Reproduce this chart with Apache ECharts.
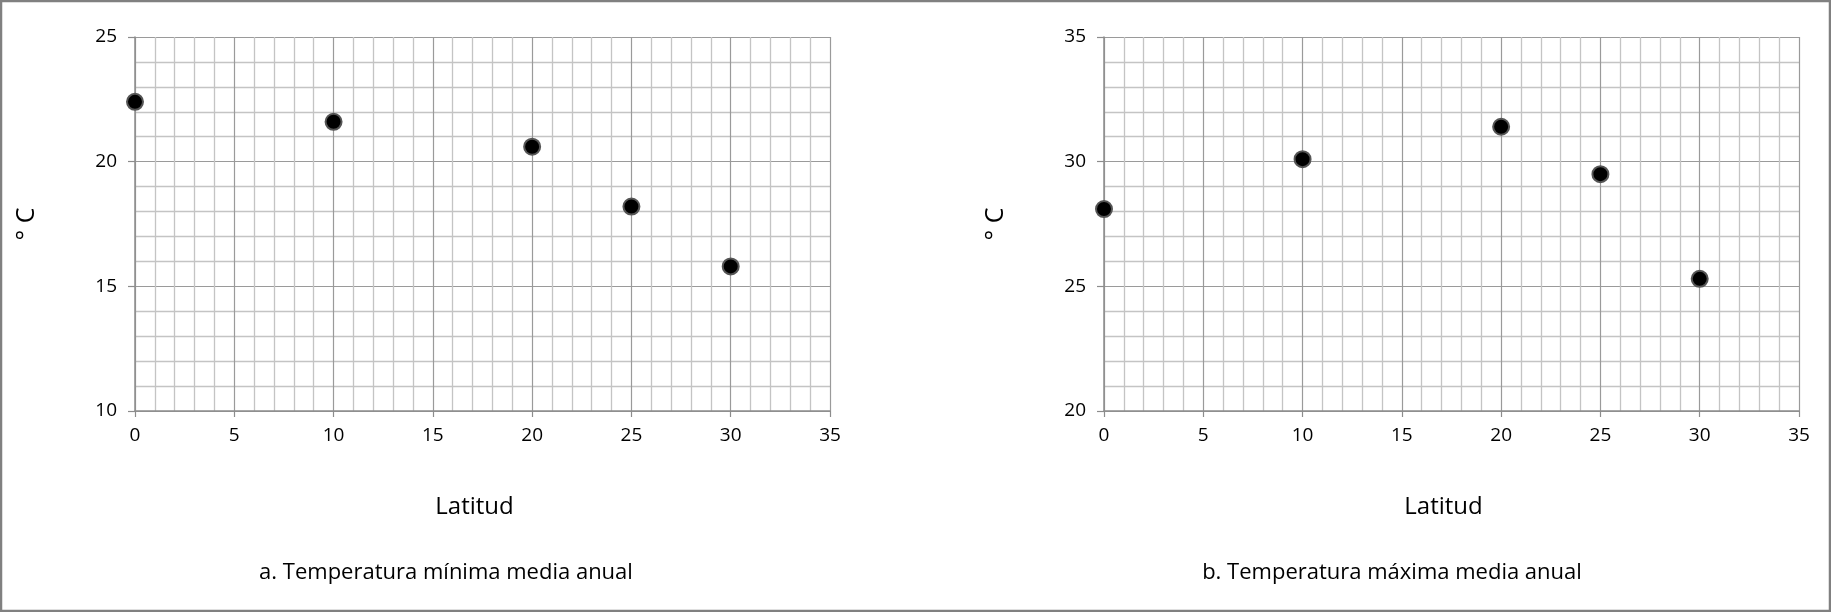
<!DOCTYPE html>
<html>
<head>
<meta charset="utf-8">
<script src="https://cdn.jsdelivr.net/npm/echarts@6/dist/echarts.min.js"></script>
<style>
html,body{margin:0;padding:0;background:#fff;}
#chart{width:1831px;height:612px;}
</style>
</head>
<body>
<div id="chart"></div>
<script>
// Data
const latitudes = [0, 10, 20, 25, 30];
const tempMin = [22.4, 21.6, 20.6, 18.2, 15.8];
const tempMax = [28.1, 30.1, 31.4, 29.5, 25.3];
const xRange = [0, 35];
const yRangeMin = [10, 25];
const yRangeMax = [20, 35];
const xAxisName = 'Latitud';
const yAxisName = '° C';
const titles = ['a. Temperatura mínima media anual', 'b. Temperatura máxima media anual'];

const FONT = '"Open Sans", "DejaVu Sans", sans-serif';
const chart = echarts.init(document.getElementById('chart'), null, {renderer: 'canvas'});

function xAxisCfg(idx) {
  return {
    gridIndex: idx, type: 'value', min: xRange[0], max: xRange[1], interval: 5,
    name: xAxisName, nameLocation: 'middle', nameGap: 84,
    nameTextStyle: {fontFamily: FONT, fontSize: 24, color: '#000', padding: [0, 16, 0, 0]},
    axisLine: {show: true, lineStyle: {color: '#8c8c8c', width: 1.5}},
    axisTick: {show: true, length: 6, lineStyle: {color: '#8c8c8c', width: 1.2}},
    axisLabel: {fontFamily: FONT, fontSize: 19, color: '#000', margin: 15},
    splitLine: {show: true, lineStyle: {color: '#9a9a9a', width: 1.2}},
    minorTick: {show: false, splitNumber: 5},
    minorSplitLine: {show: true, lineStyle: {color: '#c4c4c4', width: 1.3}}
  };
}
function yAxisCfg(idx, range) {
  return {
    gridIndex: idx, type: 'value', min: range[0], max: range[1], interval: 5,
    name: yAxisName, nameLocation: 'middle', nameGap: 96, nameRotate: 90,
    nameTextStyle: {fontFamily: FONT, fontSize: 25, color: '#000'},
    axisLine: {show: true, lineStyle: {color: '#8c8c8c', width: 1.5}},
    axisTick: {show: true, length: 7, lineStyle: {color: '#8c8c8c', width: 1.2}},
    axisLabel: {fontFamily: FONT, fontSize: 19, color: '#000', margin: 18},
    splitLine: {show: true, lineStyle: {color: '#9a9a9a', width: 1.2}},
    minorTick: {show: false, splitNumber: 5},
    minorSplitLine: {show: true, lineStyle: {color: '#c4c4c4', width: 1.3}}
  };
}
function seriesCfg(idx, values) {
  return {
    type: 'scatter', xAxisIndex: idx, yAxisIndex: idx,
    data: latitudes.map((x, i) => [x, values[i]]),
    symbol: 'circle', symbolSize: 16,
    itemStyle: {color: '#000', borderColor: '#555', borderWidth: 2, opacity: 1},
    clip: false, z: 5
  };
}

chart.setOption({
  animation: false,
  backgroundColor: '#fff',
  title: [
    {text: titles[0], left: 441, top: 557, textAlign: 'center',
     textStyle: {fontFamily: FONT, fontSize: 22, fontWeight: 'normal', color: '#000'}},
    {text: titles[1], left: 1387, top: 557, textAlign: 'center',
     textStyle: {fontFamily: FONT, fontSize: 22, fontWeight: 'normal', color: '#000'}}
  ],
  grid: [
    {left: 135, top: 37, width: 695, height: 374, containLabel: false},
    {left: 1104, top: 37, width: 695, height: 374, containLabel: false}
  ],
  xAxis: [xAxisCfg(0), xAxisCfg(1)],
  yAxis: [yAxisCfg(0, yRangeMin), yAxisCfg(1, yRangeMax)],
  series: [seriesCfg(0, tempMin), seriesCfg(1, tempMax)],
  graphic: [{
    type: 'rect', silent: true, z: 100,
    shape: {x: 1, y: 1, width: 1829, height: 610},
    style: {fill: null, stroke: '#808080', lineWidth: 2.5}
  }]
});
</script>
</body>
</html>
